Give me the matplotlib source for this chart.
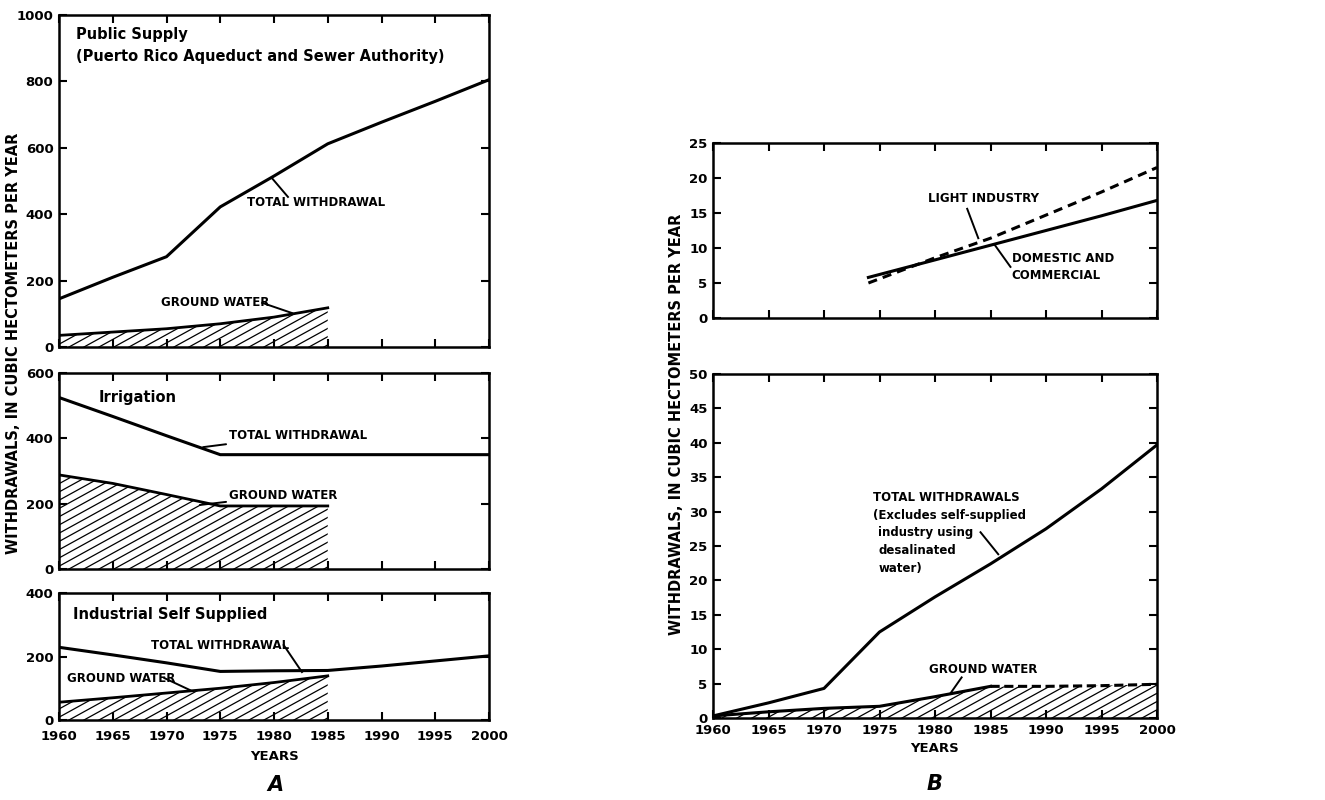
import numpy as np
import matplotlib
matplotlib.use("Agg")
import matplotlib.pyplot as plt
from matplotlib.collections import LineCollection

# ---------------- data ----------------
years = [1960, 1965, 1970, 1975, 1980, 1985, 1990, 1995, 2000]
gw_years = [1960, 1965, 1970, 1975, 1980, 1985]

ps_total = [145, 210, 272, 422, 515, 612, 677, 740, 805]
ps_gw = [35, 45, 55, 70, 90, 118]

irr_total = [525, 467, 408, 350, 350, 350, 350, 350, 350]
irr_gw = [288, 262, 228, 193, 193, 193]

ind_total = [229, 205, 180, 153, 155, 156, 170, 186, 202]
ind_gw = [56, 70, 85, 100, 118, 139]

b_years_top = [1974, 1980, 1985, 1990, 1995, 2000]
dom_comm = [5.8, 8.3, 10.4, 12.5, 14.6, 16.8]
light_ind = [5.0, 8.6, 11.4, 14.7, 18.0, 21.5]

b_total = [0.3, 2.2, 4.3, 12.5, 17.6, 22.4, 27.5, 33.3, 39.7]
b_gw = [0.3, 0.9, 1.4, 1.7, 3.1, 4.6, 4.6, 4.7, 4.9]

year_ticks = [1960, 1965, 1970, 1975, 1980, 1985, 1990, 1995, 2000]

# ---------------- figure ----------------
W, H = 1325, 800
fig = plt.figure(figsize=(W / 100, H / 100), dpi=100)
plt.rcParams['font.family'] = ['DejaVu Sans']

BOLD = dict(fontweight='bold', color='black')


def px_axes(x0, y0, x1, y1):
    return fig.add_axes([x0 / W, 1 - y1 / H, (x1 - x0) / W, (y1 - y0) / H])


def style(ax, ylim, yticks, show_x, xpad=7):
    ax.set_xlim(1960, 2000)
    ax.set_ylim(*ylim)
    ax.set_xticks(year_ticks)
    ax.set_yticks(yticks)
    ax.tick_params(direction='in', top=True, right=True, length=6, width=1.5,
                   labelsize=9.5)
    ax.tick_params(axis='x', pad=xpad)
    ax.tick_params(axis='y', pad=4)
    for lab in ax.get_xticklabels() + ax.get_yticklabels():
        lab.set_fontweight('bold')
    if not show_x:
        ax.set_xticklabels([])
    for s in ax.spines.values():
        s.set_linewidth(1.8)


def hatch_fill(ax, x, y, spacing=15, slope=0.55):
    poly = ax.fill_between(x, 0, y, facecolor='white', edgecolor='none', linewidth=0)
    pos = ax.get_position()
    Wp = pos.width * W
    Hp = pos.height * H
    segs = []
    b = -slope * Wp
    while b < Hp:
        segs.append([(0, b / Hp), (1, (slope * Wp + b) / Hp)])
        b += slope * spacing
    lc = LineCollection(segs, colors='black', linewidths=0.9, transform=ax.transAxes)
    ax.add_collection(lc)
    lc.set_clip_path(poly.get_paths()[0], poly.get_transform())
    return poly


def leader(ax, text, xy, xytext, ha='left', va='center', fs=8.5):
    ax.annotate(text, xy=xy, xytext=xytext, ha=ha, va=va, fontsize=fs,
                fontweight='bold',
                arrowprops=dict(arrowstyle='-', lw=1.4, color='black',
                                shrinkA=0, shrinkB=0))


# ---- A: public supply ----
ax1 = px_axes(59, 15, 489, 347)
style(ax1, (0, 1000), [0, 200, 400, 600, 800, 1000], False)
hatch_fill(ax1, gw_years, ps_gw)
ax1.plot(gw_years, ps_gw, color='black', lw=2)
ax1.plot(years, ps_total, color='black', lw=2.2)
ax1.text(1961.6, 928, 'Public Supply', fontsize=10.5, **BOLD)
ax1.text(1961.6, 860, '(Puerto Rico Aqueduct and Sewer Authority)', fontsize=10.5, **BOLD)
ax1.text(1977.5, 425, 'TOTAL WITHDRAWAL', fontsize=8.5, **BOLD)
ax1.plot([1979.8, 1981.3], [509, 452], color='black', lw=1.4)
ax1.text(1969.5, 133, 'GROUND WATER', fontsize=8.5, ha='left', va='center', **BOLD)
ax1.plot([1978.9, 1981.7], [133, 102], color='black', lw=1.4)

# ---- A: irrigation ----
ax2 = px_axes(59, 373, 489, 569)
style(ax2, (0, 600), [0, 200, 400, 600], False)
hatch_fill(ax2, gw_years, irr_gw)
ax2.plot(gw_years, irr_gw, color='black', lw=2)
ax2.plot(years, irr_total, color='black', lw=2.2)
ax2.text(1963.7, 526, 'Irrigation', fontsize=10.5, va='center', **BOLD)
leader(ax2, 'TOTAL WITHDRAWAL', (1973.4, 373), (1975.8, 410))
leader(ax2, 'GROUND WATER', (1973.1, 196), (1975.8, 226))

# ---- A: industrial ----
ax3 = px_axes(59, 593, 489, 720)
style(ax3, (0, 400), [0, 200, 400], True)
hatch_fill(ax3, gw_years, ind_gw)
ax3.plot(gw_years, ind_gw, color='black', lw=2)
ax3.plot(years, ind_total, color='black', lw=2.2)
ax3.text(1961.3, 331, 'Industrial Self Supplied', fontsize=10.5, va='center', **BOLD)
ax3.text(1968.6, 236, 'TOTAL WITHDRAWAL', fontsize=8.5, va='center', **BOLD)
ax3.plot([1980.9, 1982.6], [236, 151], color='black', lw=1.4)
ax3.text(1960.7, 132, 'GROUND WATER', fontsize=8.5, va='center', **BOLD)
ax3.plot([1969.8, 1972.2], [132, 94], color='black', lw=1.4)

# ---- B: top ----
ax4 = px_axes(713, 143, 1157, 318)
style(ax4, (0, 25), [0, 5, 10, 15, 20, 25], False)
ax4.plot(b_years_top, dom_comm, color='black', lw=2.2)
ax4.plot(b_years_top, light_ind, color='black', lw=2.2, linestyle=(0, (3, 2)))
ax4.text(1979.4, 17.1, 'LIGHT INDUSTRY', fontsize=8.5, va='center', **BOLD)
ax4.plot([1982.9, 1983.9], [15.6, 11.4], color='black', lw=1.4)
ax4.text(1986.9, 8.5, 'DOMESTIC AND', fontsize=8.5, va='center', **BOLD)
ax4.text(1986.9, 6.1, 'COMMERCIAL', fontsize=8.5, va='center', **BOLD)
ax4.plot([1985.4, 1986.8], [10.4, 7.3], color='black', lw=1.4)

# ---- B: bottom ----
ax5 = px_axes(713, 374, 1157, 718)
style(ax5, (0, 50), list(range(0, 51, 5)), True, xpad=4)
hatch_fill(ax5, years, b_gw)
ax5.plot(years[:6], b_gw[:6], color='black', lw=2.2)
ax5.plot(years[5:], b_gw[5:], color='black', lw=2.2, linestyle=(0, (3, 1.5)))
ax5.plot(years, b_total, color='black', lw=2.2)
ax5.text(1974.4, 32.1, 'TOTAL WITHDRAWALS', fontsize=8.5, va='center', **BOLD)
ax5.text(1974.4, 29.5, '(Excludes self-supplied', fontsize=8.5, va='center', **BOLD)
ax5.text(1974.9, 26.9, 'industry using', fontsize=8.5, va='center', **BOLD)
ax5.text(1974.9, 24.4, 'desalinated', fontsize=8.5, va='center', **BOLD)
ax5.text(1974.9, 21.8, 'water)', fontsize=8.5, va='center', **BOLD)
ax5.plot([1984.1, 1985.7], [27.0, 23.8], color='black', lw=1.4)
ax5.text(1979.5, 7.1, 'GROUND WATER', fontsize=8.5, va='center', **BOLD)
ax5.plot([1982.4, 1981.4], [5.9, 3.6], color='black', lw=1.4)

# ---- labels ----
ylab = 'WITHDRAWALS, IN CUBIC HECTOMETERS PER YEAR'
fig.text(14 / W, 1 - 343 / H, ylab, rotation=90, ha='center', va='center',
         fontsize=10.5, **BOLD)
fig.text(677 / W, 1 - 424 / H, ylab, rotation=90, ha='center', va='center',
         fontsize=10.5, **BOLD)
fig.text(275 / W, 1 - 757 / H, 'YEARS', ha='center', va='center', fontsize=9.5, **BOLD)
fig.text(935 / W, 1 - 749 / H, 'YEARS', ha='center', va='center', fontsize=9.5, **BOLD)
fig.text(275 / W, 1 - 785 / H, 'A', ha='center', va='center', fontsize=15,
         style='italic', **BOLD)
fig.text(935 / W, 1 - 784 / H, 'B', ha='center', va='center', fontsize=15,
         style='italic', **BOLD)

fig.savefig('out.png', dpi=100, facecolor='white')
